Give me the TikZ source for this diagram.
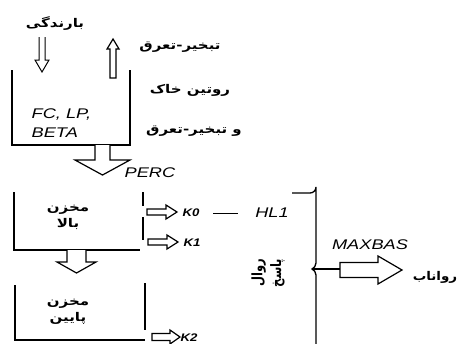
\documentclass[tikz,border=0pt]{standalone}
\usepackage{fontspec}
\setmainfont{Liberation Sans}
\newfontfamily\arf[Script=Arabic]{DejaVu Sans}
\TeXXeTstate=1
\begin{document}
\begin{tikzpicture}[x=1pt,y=-1pt,line width=1.1pt,
  lat/.style={font=\fontsize{14}{16}\selectfont\itshape,xscale=1.3,inner sep=0pt},
  klat/.style={font=\fontsize{11}{12}\selectfont\itshape\bfseries,xscale=1.2,inner sep=0pt},
  artxt/.style={font=\arf\bfseries\fontsize{12}{16}\selectfont,xscale=1.25,inner sep=0pt,align=center},
  harrow/.style={draw=black,line width=1.2pt,line join=miter,fill=white},
  wall/.style={draw=black,line width=1.3pt}]
\useasboundingbox (0,0) rectangle (462,343);
% --- texts ---
\node[artxt] (rain) at (55,24) {\beginR بارندگی\endR};
\node[artxt] (et1) at (180,47) {\beginR تبخیر-تعرق\endR};
\node[artxt] (soil) at (190,90) {\beginR روتین خاک\endR};
\node[artxt] (et2) at (194,131) {\beginR و تبخیر-تعرق\endR};
\node[lat,anchor=west] (fc) at (31,115) {FC, LP,};
\node[lat,anchor=west] (beta) at (31,133) {BETA};
\node[lat] (perc) at (150,173) {PERC};
\node[artxt] (upper) at (68,217) {\beginR مخزن\endR\\\beginR بالا\endR};
\node[artxt] (lower) at (68,312) {\beginR مخزن\endR\\\beginR پایین\endR};
\node[klat] (k0) at (191,213) {K0};
\node[klat] (k1) at (192,243) {K1};
\node[klat] (k2) at (189,338) {K2};
\node[lat] (hl1) at (272,213) {HL1};
\node[lat] (maxbas) at (370,245) {MAXBAS};
\node[artxt,xscale=0.9] (runoff) at (435,277) {\beginR رواناب\endR};
\node[artxt,font=\arf\bfseries\fontsize{11.5}{15}\selectfont,xscale=1,rotate=90] (resp) at (268,273) {\beginR روال\endR\\\beginR پاسخ\endR};
% --- soil box ---
\draw[wall] (12,70) -- (12,145) -- (130,145) -- (130,70);
% rain arrow (double line)
\draw[line width=1pt,line join=miter] (39,37) -- (39,60) -- (35,60) -- (42,72) -- (49,60) -- (45,60) -- (45,37);
% ET arrow up
\draw[harrow] (110,78) -- (110,49) -- (107,49) -- (113,39) -- (119,49) -- (116,49) -- (116,78) -- cycle;
% PERC arrow
\draw[harrow] (95,145) -- (95,160) -- (75,160) -- (102.5,175) -- (130,160) -- (110,160) -- (110,145);
% --- upper store ---
\draw[wall] (14,192) -- (14,250) -- (140,250);
\draw[wall] (143,192) -- (143,206);
\draw[wall] (143,217) -- (143,240);
\draw[harrow] (147,209) -- (166,209) -- (166,205) -- (177,212) -- (166,219) -- (166,215) -- (147,215) -- cycle;
\draw[harrow] (148,239) -- (167,239) -- (167,235) -- (178,242) -- (167,249) -- (167,245) -- (148,245) -- cycle;
\coordinate (d1) at (213,213);
\coordinate (d2) at (238,213);
\draw[line width=1pt] (d1) -- (d2);
% arrow between stores
\draw[harrow] (67,250) -- (67,262) -- (57,262) -- (76.5,273) -- (96,262) -- (86,262) -- (86,250);
% --- lower store ---
\draw[wall] (15,285) -- (15,340) -- (145,340);
\draw[wall] (145,283) -- (145,330);
\draw[harrow] (152,333.5) -- (170,333.5) -- (170,330) -- (180,337) -- (170,344) -- (170,340.5) -- (152,340.5) -- cycle;
% --- bracket ---
\coordinate (cusp) at (312,269);
\draw[wall] (292,193) -- (310,193) arc[start angle=90,end angle=0,radius=6] -- (316,263)
   .. controls (316,266) and (314,268) .. (cusp) .. controls (314,270) and (316,272) .. (316,275) -- (316,345);
\draw[wall] (cusp) -- (340,269);
% MAXBAS arrow
\draw[harrow] (340,262.5) -- (378,262.5) -- (378,256) -- (402,270) -- (378,284) -- (378,277.5) -- (340,277.5) -- cycle;
\end{tikzpicture}
\end{document}
